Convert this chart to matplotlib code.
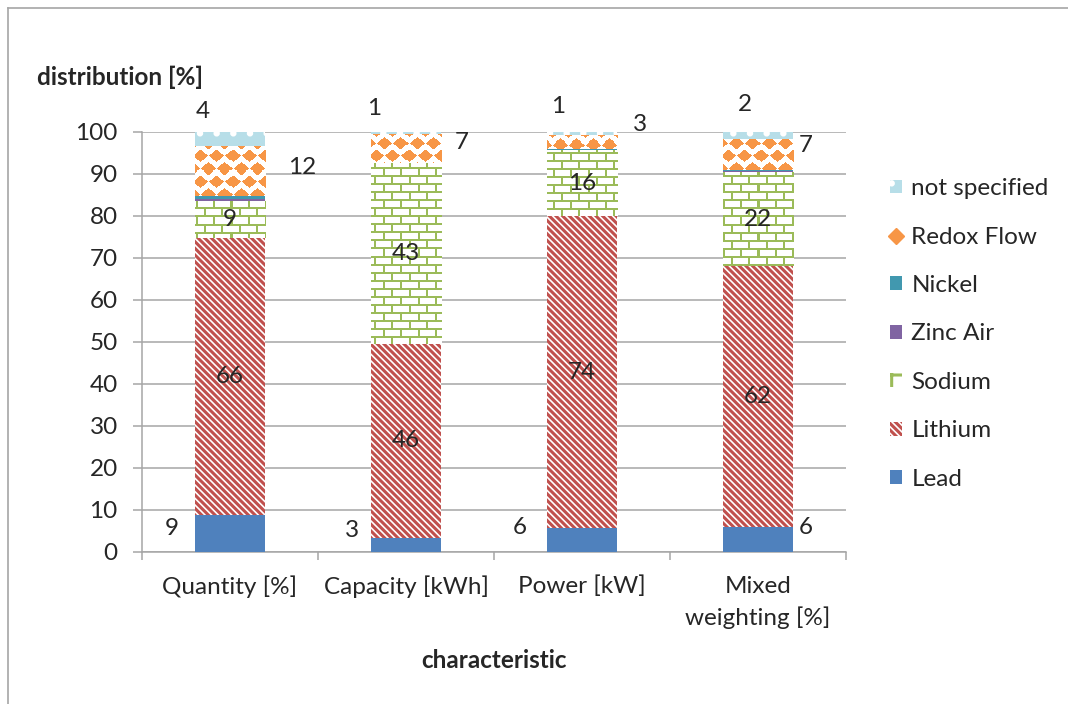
import numpy as np
import matplotlib
matplotlib.use("Agg")
import matplotlib.pyplot as plt
from matplotlib.colors import to_rgba
from matplotlib.lines import Line2D
from matplotlib.patches import Patch

plt.rcParams["font.family"] = ["Lato", "DejaVu Sans"]
plt.rcParams["hatch.linewidth"] = 2.2

categories = ["Quantity [%]", "Capacity [kWh]", "Power [kW]", "Mixed\nweighting [%]"]
series = ["Lead", "Lithium", "Sodium", "Zinc Air", "Nickel", "Redox Flow", "not specified"]

lead = [8.8, 3.3, 5.7, 6.0]
lithium = [66.0, 46.3, 74.3, 62.1]
sodium = [8.6, 42.9, 15.7, 22.2]
zinc_air = [0.6, 0.0, 0.0, 0.3]
nickel = [0.8, 0.1, 0.3, 0.3]
redox_flow = [11.7, 6.8, 3.2, 7.3]
not_specified = [3.6, 0.6, 0.8, 1.8]

values = [lead, lithium, sodium, zinc_air, nickel, redox_flow, not_specified]

GREEN = "#9BBB59"
ORANGE = "#F79646"
TEXT = "#262626"
GRID = "#A6A6A6"
FS = 17.5

# label offsets in pixels (dx, dy) relative to each segment centre
label_offsets = {
    "Lead": [(-58, 5), (-54, 15), (-62, 13), (48, 12)],
    "Lithium": [(0, 0)] * 4,
    "Sodium": [(0, 0)] * 4,
    "Redox Flow": [(72, 4), (56, 6), (58, 18), (48, 9)],
    "not specified": [(-27, 28), (-32, 25), (-24, 27), (-13, 31)],
}

fig = plt.figure(figsize=(10.68, 7.04), dpi=100)
ax = fig.add_axes([142 / 1068, 1 - 552 / 704, 704 / 1068, 420 / 704])
ax.set_xlim(-0.5, len(categories) - 0.5)
ax.set_ylim(0, 100)
ax.set_autoscale_on(False)

x = np.arange(len(categories))
width = 0.4
bottom = np.zeros(len(categories))
containers = {}

style = {
    "Lead": dict(color="#4F81BD"),
    "Lithium": dict(facecolor="white", edgecolor="#C0504D", hatch="\\\\\\\\\\"),
    "Sodium": dict(facecolor="white"),
    "Zinc Air": dict(color="#8064A2"),
    "Nickel": dict(color="#4198AF"),
    "Redox Flow": dict(facecolor="white"),
    "not specified": dict(facecolor="#B7DEE8", edgecolor="white", hatch="."),
}

for name, vals in zip(series, values):
    vals = np.array(vals)
    bars = ax.bar(x, vals, width, bottom=bottom, linewidth=0, zorder=3, **style[name])
    containers[name] = (bars, bottom.copy(), vals)
    bottom += vals


def brick_mask(X, Y):
    row = Y // 8
    horiz = (Y % 8) < 2
    vert = ((X + (row % 2) * 8) % 17) < 2
    return horiz | vert


def diamond_mask(X, Y, px=16.0, py=12.5, hw=7.2, hh=6.0, p=1.1):
    row = np.floor(Y / py)
    d = np.full(X.shape, np.inf)
    for r_off in (-1, 0, 1):
        r = row + r_off
        cy = (r + 0.5) * py
        sh = (r % 2) * px / 2
        cx = np.floor((X - sh) / px) * px + sh + px / 2
        for c_off in (-px, 0, px):
            d = np.minimum(d, (np.abs(X - cx - c_off) / hw) ** p + (np.abs(Y - cy) / hh) ** p)
    return d <= 1.0


def fill_texture(rect, mask_fn, color):
    x0, y0, w, h = rect.get_x(), rect.get_y(), rect.get_width(), rect.get_height()
    if h <= 0:
        return
    (l, b), (r, t) = ax.transData.transform([(x0, y0), (x0 + w, y0 + h)])
    H = fig.bbox.height
    wpx, hpx = int(round(r - l)), int(round(t - b))
    if hpx < 1:
        return
    X, Y = np.meshgrid(np.arange(wpx) + round(l), np.arange(hpx) + round(H - t))
    img = np.ones((hpx, wpx, 4))
    img[mask_fn(X, Y)] = to_rgba(color)
    ax.imshow(img, extent=(x0, x0 + w, y0, y0 + h), origin="upper",
              interpolation="nearest", aspect="auto", zorder=3.5)


for rect in containers["Sodium"][0]:
    fill_texture(rect, brick_mask, GREEN)
for rect in containers["Redox Flow"][0]:
    fill_texture(rect, diamond_mask, ORANGE)

# data labels
for name, offs in label_offsets.items():
    bars, base, vals = containers[name]
    for i, (v, b) in enumerate(zip(vals, base)):
        ox, oy = offs[i]
        ax.annotate(f"{v:.0f}", (x[i], b + v / 2), xytext=(ox * 0.72, oy * 0.72),
                    textcoords="offset points", ha="center", va="center",
                    fontsize=FS, color=TEXT, zorder=6, annotation_clip=False)

ax.set_yticks(np.arange(0, 101, 10))
ax.yaxis.grid(True, color=GRID, linewidth=1.1)
ax.set_axisbelow(True)
ax.tick_params(axis="y", length=6.5, width=1.1, color=GRID, pad=11,
               labelsize=FS, labelcolor=TEXT)

ax.set_xticks(np.arange(-0.5, len(categories)), labels=[""] * (len(categories) + 1))
ax.set_xticks(x, labels=categories, minor=True)
ax.tick_params(axis="x", which="major", length=6, width=1.1, color=GRID)
ax.tick_params(axis="x", which="minor", length=0, pad=17, labelsize=FS, labelcolor=TEXT)
for lbl in ax.get_xticklabels(minor=True):
    lbl.set_linespacing(1.55)

for s in ["top", "right"]:
    ax.spines[s].set_visible(False)
for s in ["left", "bottom"]:
    ax.spines[s].set_color(GRID)
    ax.spines[s].set_linewidth(1.1)

fig.text(37 / 1068, 1 - 77 / 704, "distribution [%]", fontsize=FS, fontweight="bold",
         color=TEXT, va="center", ha="left")
fig.text(494 / 1068, 1 - 660 / 704, "characteristic", fontsize=FS, fontweight="bold",
         color=TEXT, va="center", ha="center")

handles = [
    Patch(facecolor="#B7DEE8", edgecolor="white", hatch=".", lw=0),
    Line2D([], [], marker="D", color=ORANGE, ls="none", ms=8),
    Patch(facecolor="#4198AF", lw=0),
    Patch(facecolor="#8064A2", lw=0),
    Patch(facecolor="white", edgecolor=GREEN, hatch="+", lw=0),
    Patch(facecolor="white", edgecolor="#C0504D", hatch="\\\\\\\\\\", lw=0),
    Patch(facecolor="#4F81BD", lw=0),
]
fig.legend(handles, series[::-1], loc="center left", bbox_to_anchor=(890 / 1068, 1 - 334 / 704),
           frameon=False, fontsize=FS, labelcolor=TEXT, labelspacing=1.13,
           handlelength=0.5, handleheight=0.5, handletextpad=0.38,
           borderpad=0, borderaxespad=0)

# outer chart frame (left and top edges)
fig.add_artist(Line2D([7.5 / 1068, 7.5 / 1068], [0, 1 - 7.5 / 704], transform=fig.transFigure,
                      color=GRID, lw=1.2))
fig.add_artist(Line2D([7.5 / 1068, 1], [1 - 7.5 / 704, 1 - 7.5 / 704], transform=fig.transFigure,
                      color=GRID, lw=1.2))

fig.savefig("out.png", dpi=100)
